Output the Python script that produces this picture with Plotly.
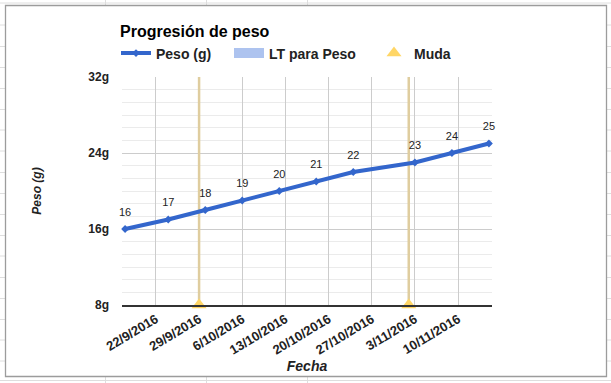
import plotly.graph_objects as go

# ---- data ----
fechas = ['2016-09-17', '2016-09-24', '2016-09-30', '2016-10-06', '2016-10-12',
          '2016-10-18', '2016-10-24', '2016-11-03', '2016-11-09', '2016-11-15']
peso = [16, 17, 18, 19, 20, 21, 22, 23, 24, 25]
muda_fechas = ['2016-09-29', '2016-11-02']
muda_valor = [8, 8]
muda_altura = [24, 24]
y_ticks = [8, 16, 24, 32]
y_ticklabels = ['8g', '16g', '24g', '32g']

W, H = 611, 383
L, R, T, B = 122, 119, 77, 78
PW, PH = W - L - R, H - T - B

def px(x):
    return (x - L) / PW

def py(y):
    return (H - B - y) / PH

FONT = 'Arial, Liberation Sans, sans-serif'
BLUE = '#3366cc'
LTBLUE = '#adc3ef'
YELLOW = '#ffd666'
TAN = '#dfcd9f'

fig = go.Figure()

# Muda stems + triangles
fig.add_trace(go.Scatter(
    x=muda_fechas, y=muda_valor, mode='markers', name='Muda',
    marker=dict(symbol='triangle-up', size=13, color=YELLOW),
    error_y=dict(type='data', symmetric=False, array=muda_altura,
                 arrayminus=[0] * len(muda_valor), color=TAN, thickness=2.5, width=0),
    cliponaxis=False, legend='legend3'))

# Peso line
fig.add_trace(go.Scatter(
    x=fechas, y=peso, mode='lines+markers', name='Peso (g)',
    line=dict(color=BLUE, width=4),
    marker=dict(symbol='diamond', size=6, color=BLUE),
    cliponaxis=False, legend='legend'))

# data labels
fig.add_trace(go.Scatter(
    x=fechas, y=peso, mode='markers+text', text=[str(v) for v in peso],
    textposition='top center', showlegend=False, hoverinfo='skip',
    marker=dict(size=15, color='rgba(0,0,0,0)'),
    textfont=dict(family=FONT, size=11, color='#222222'),
    cliponaxis=False))

# trendline legend entry
fig.add_trace(go.Scatter(
    x=[None], y=[None], mode='lines', name='LT para Peso',
    line=dict(color=LTBLUE, width=10), legend='legend2'))

shapes = []
# spreadsheet grid around chart
GRID = '#dedede'
shapes.append(dict(type='line', xref='paper', yref='paper', x0=px(0), x1=px(W),
                   y0=py(3), y1=py(3), line=dict(color=GRID, width=1), layer='below'))
shapes.append(dict(type='line', xref='paper', yref='paper', x0=px(0), x1=px(W),
                   y0=py(380.5), y1=py(380.5), line=dict(color=GRID, width=1), layer='below'))
for xc in [105.5, 206.5, 307.5]:
    shapes.append(dict(type='line', xref='paper', yref='paper', x0=px(xc), x1=px(xc),
                       y0=py(0), y1=py(5), line=dict(color=GRID, width=1), layer='below'))
    shapes.append(dict(type='line', xref='paper', yref='paper', x0=px(xc), x1=px(xc),
                       y0=py(377), y1=py(H), line=dict(color=GRID, width=1), layer='below'))
for yr in [25, 46.5, 67.5, 88.5, 109.5, 130, 151, 172.5, 193.5, 214.5, 235.5, 256,
           277.5, 298.5, 319.5, 340, 361]:
    shapes.append(dict(type='line', xref='paper', yref='paper', x0=px(607), x1=px(W),
                       y0=py(yr), y1=py(yr), line=dict(color=GRID, width=1), layer='below'))
    shapes.append(dict(type='line', xref='paper', yref='paper', x0=px(0), x1=px(5),
                       y0=py(yr), y1=py(yr), line=dict(color=GRID, width=1), layer='below'))
# chart frame
shapes.append(dict(type='rect', xref='paper', yref='paper', x0=px(5.5), x1=px(606.5),
                   y0=py(376.5), y1=py(5.5), line=dict(color='#9c9c9c', width=1.3),
                   fillcolor='rgba(0,0,0,0)', layer='below'))

leg_common = dict(orientation='h', xref='container', yref='container',
                  xanchor='left', yanchor='middle', y=1 - 53.5 / H,
                  bgcolor='rgba(0,0,0,0)',
                  font=dict(family=FONT, size=14, color='#222222', weight='bold'))

fig.update_layout(
    width=W, height=H,
    margin=dict(l=L, r=R, t=T, b=B, autoexpand=False),
    paper_bgcolor='white', plot_bgcolor='white',
    font=dict(family=FONT, color='#222222'),
    title=dict(text='Progresión de peso', xref='container', yref='container',
               x=120 / W, xanchor='left', y=1 - 31 / H, yanchor='middle',
               font=dict(family=FONT, size=16, color='#000000', weight='bold')),
    legend=dict(leg_common, x=116 / W),
    legend2=dict(leg_common, x=229 / W),
    legend3=dict(leg_common, x=374 / W),
    shapes=shapes,
    xaxis=dict(
        type='date', range=['2016-09-16 12:00', '2016-11-15 12:00'],
        tick0='2016-09-22', dtick=7 * 24 * 3600 * 1000, tickformat='%-d/%-m/%Y',
        tickangle=-31, showgrid=True, gridcolor='#cccccc', gridwidth=1,
        showline=True, linecolor='#333333', linewidth=1.5, ticks='',
        zeroline=False, automargin=False,
        tickfont=dict(family=FONT, size=13, color='#222222', weight='bold'),
        title=dict(text='Fecha', standoff=5,
                   font=dict(family=FONT, size=14, color='#222222', weight='bold',
                             style='italic'))),
    yaxis=dict(
        range=[8, 32], tickvals=y_ticks, ticktext=y_ticklabels,
        showgrid=True, gridcolor='#cccccc', gridwidth=1, zeroline=False,
        minor=dict(dtick=8 / 6, showgrid=True, gridcolor='#ebebeb', gridwidth=1),
        ticks='', ticklabelstandoff=12, automargin=False,
        tickfont=dict(family=FONT, size=12, color='#222222', weight='bold'),
        title=dict(text='Peso (g)', standoff=44,
                   font=dict(family=FONT, size=12, color='#222222', weight='bold',
                             style='italic'))),
)

fig.write_html('out.html', config={'displayModeBar': False},
               post_script="document.body.style.margin='0';document.body.style.overflow='hidden';")
